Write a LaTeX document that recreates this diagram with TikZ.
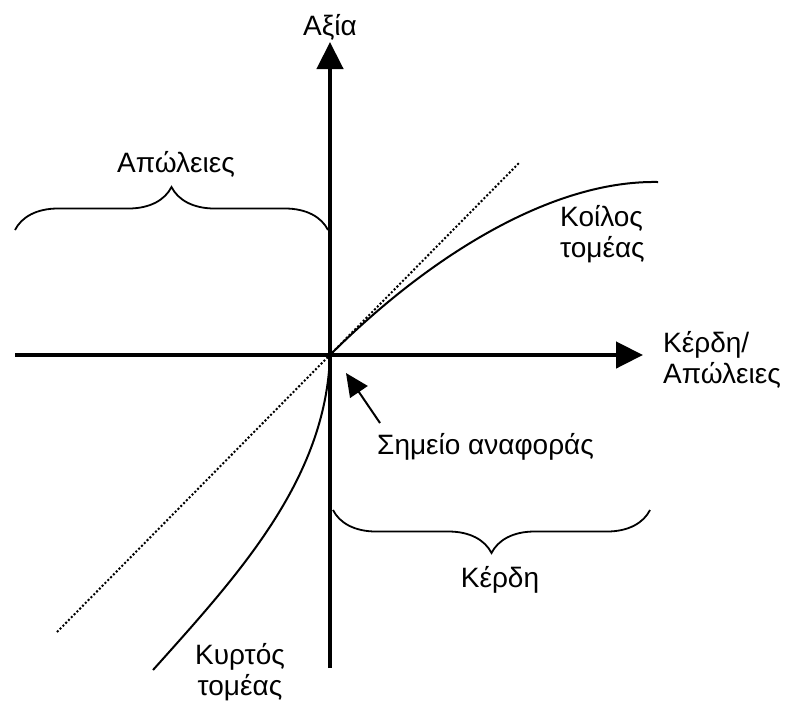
\documentclass[tikz,border=0pt]{standalone}
\usepackage{fontspec}
\setmainfont{Liberation Sans}
\usepackage{tikz}
\usetikzlibrary{arrows.meta, decorations.pathreplacing, calc}
\tikzstyle{axis} = [line width=4.5pt, -{Triangle[length=27pt, width=26pt]}]
\tikzstyle{curve} = [line width=2pt]
\tikzstyle{diag} = [line width=2pt, dash pattern=on 2pt off 2pt]
\tikzstyle{bracebar} = [line width=1.8pt, decorate, decoration={brace, amplitude=43pt}]
\tikzstyle{pointer} = [line width=2pt, -{Triangle[length=23pt, width=21pt]}]
\tikzstyle{label} = [inner sep=0pt, font=\fontsize{28}{31}\selectfont, align=left]

\begin{document}
\begin{tikzpicture}[x=1pt, y=-1pt]
  \useasboundingbox (0,0) rectangle (791,702);
  \coordinate (O) at (330,355);
  \coordinate (ybot) at (330,668);
  \coordinate (ytop) at (330,42);
  \coordinate (xleft) at (15,355);
  \coordinate (xright) at (643,355);
  \coordinate (dlow) at (57,632);
  \coordinate (dhigh) at (520,162);
  \coordinate (cvend) at (658,182);
  \coordinate (cxend) at (153,670);
  \coordinate (reftail) at (380,423);
  \coordinate (reftip) at (346,373);

  % axes
  \draw[axis] (ybot) -- (ytop);
  \draw[axis] (xleft) -- (xright);

  % 45 degree line and value curves
  \draw[diag] (dlow) -- (dhigh);
  \draw[curve] (O) .. controls (420,265) and (545,180) .. (cvend);
  \draw[curve] (O) .. controls (326,480) and (238,575) .. (cxend);

  % braces
  \draw[bracebar] (15,230) -- (328,230);
  \draw[bracebar] (650,510) -- (333,510);

  % labels
  \node (value) [label, anchor=base] at (330,35) {Αξία};
  \node (losses) [label, anchor=base] at (176,172) {Απώλειες};
  \node (gains) [label, anchor=base] at (500,587) {Κέρδη};
  \node (xlab) [label, anchor=base west] at (663,383) {Κέρδη/\\Απώλειες};
  \node (concave) [label, anchor=base west] at (560,257) {Κοίλος\\τομέας};
  \node (convex) [label, anchor=base, align=center] at (240,695) {Κυρτός\\τομέας};
  \node (ref) [label, anchor=base west] at (377,454) {Σημείο αναφοράς};

  \draw[pointer] (reftail) -- (reftip);
\end{tikzpicture}
\end{document}
